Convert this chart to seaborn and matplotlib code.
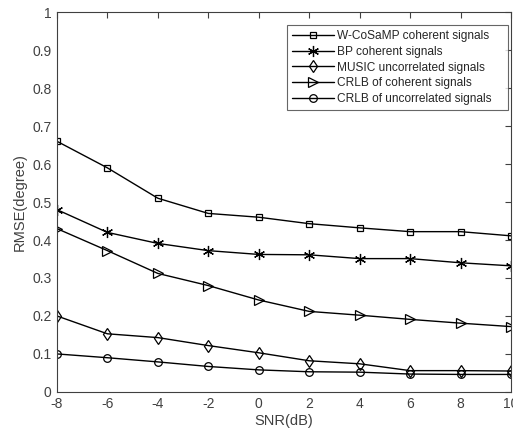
import matplotlib
matplotlib.use("Agg")
import matplotlib.pyplot as plt
import seaborn as sns
import pandas as pd

snr = [-8, -6, -4, -2, 0, 2, 4, 6, 8, 10]
wcosamp = [0.66, 0.59, 0.51, 0.47, 0.46, 0.443, 0.432, 0.422, 0.422, 0.411]
bp = [0.48, 0.42, 0.391, 0.372, 0.362, 0.361, 0.351, 0.351, 0.340, 0.332]
music = [0.20, 0.153, 0.143, 0.122, 0.103, 0.082, 0.074, 0.056, 0.056, 0.055]
crlb_coh = [0.43, 0.372, 0.312, 0.28, 0.242, 0.212, 0.202, 0.191, 0.181, 0.172]
crlb_unc = [0.10, 0.09, 0.079, 0.067, 0.058, 0.053, 0.052, 0.047, 0.046, 0.046]

names = ["W-CoSaMP coherent signals", "BP coherent signals", "MUSIC uncorrelated signals",
         "CRLB of coherent signals", "CRLB of uncorrelated signals"]
series = [wcosamp, bp, music, crlb_coh, crlb_unc]
xticks = [-8, -6, -4, -2, 0, 2, 4, 6, 8, 10]
yticks = [0, 0.1, 0.2, 0.3, 0.4, 0.5, 0.6, 0.7, 0.8, 0.9, 1]
ytlabels = ["0", "0.1", "0.2", "0.3", "0.4", "0.5", "0.6", "0.7", "0.8", "0.9", "1"]

rows = []
for n, s in zip(names, series):
    for x, y in zip(snr, s):
        rows.append({"SNR": x, "RMSE": y, "Method": n})
df = pd.DataFrame(rows)

sns.set_style("white")
plt.rcParams["font.family"] = ["Liberation Sans", "DejaVu Sans"]
plt.rcParams["axes.unicode_minus"] = False

fig = plt.figure(figsize=(5.13, 4.34), dpi=100)
ax = fig.add_axes([0.111, 0.097, 0.885, 0.875])

styles = [("s", 5.0, "none"), ((6, 2, 0), 8.0, "black"), ("d", 6.0, "none"),
          (">", 6.5, "none"), ("o", 5.5, "none")]
for n, (m, ms, fc) in zip(names, styles):
    sub = df[df["Method"] == n]
    sns.lineplot(data=sub, x="SNR", y="RMSE", ax=ax, color="black", linewidth=1.0,
                 marker=m, markersize=ms, markerfacecolor=fc,
                 markeredgecolor="black", markeredgewidth=0.9, label=n)

ax.set_xlim(-8, 10)
ax.set_ylim(0, 1)
ax.set_xticks(xticks)
ax.set_xticklabels([str(v) for v in xticks])
ax.set_yticks(yticks)
ax.set_yticklabels(ytlabels)
ax.tick_params(direction="in", top=True, right=True, length=4, width=0.8,
               labelsize=10, colors="#404040", labelcolor="#404040", pad=4)
for sp in ax.spines.values():
    sp.set_color("#404040")
    sp.set_linewidth(0.8)
ax.set_xlabel("SNR(dB)", fontsize=10.5, color="#404040", labelpad=2)
ax.set_ylabel("RMSE(degree)", fontsize=10.5, color="#404040", labelpad=4)

leg = ax.legend(loc="upper left", bbox_to_anchor=(0.5066, 0.0, 0.4868, 0.9658),
                mode="expand", fontsize=8.6, frameon=True,
                fancybox=False, edgecolor="#404040", handlelength=3.5, borderpad=0.4,
                labelspacing=0.32, handletextpad=0.33, borderaxespad=0)
leg.get_frame().set_linewidth(0.8)

fig.savefig("out.png", dpi=100)
